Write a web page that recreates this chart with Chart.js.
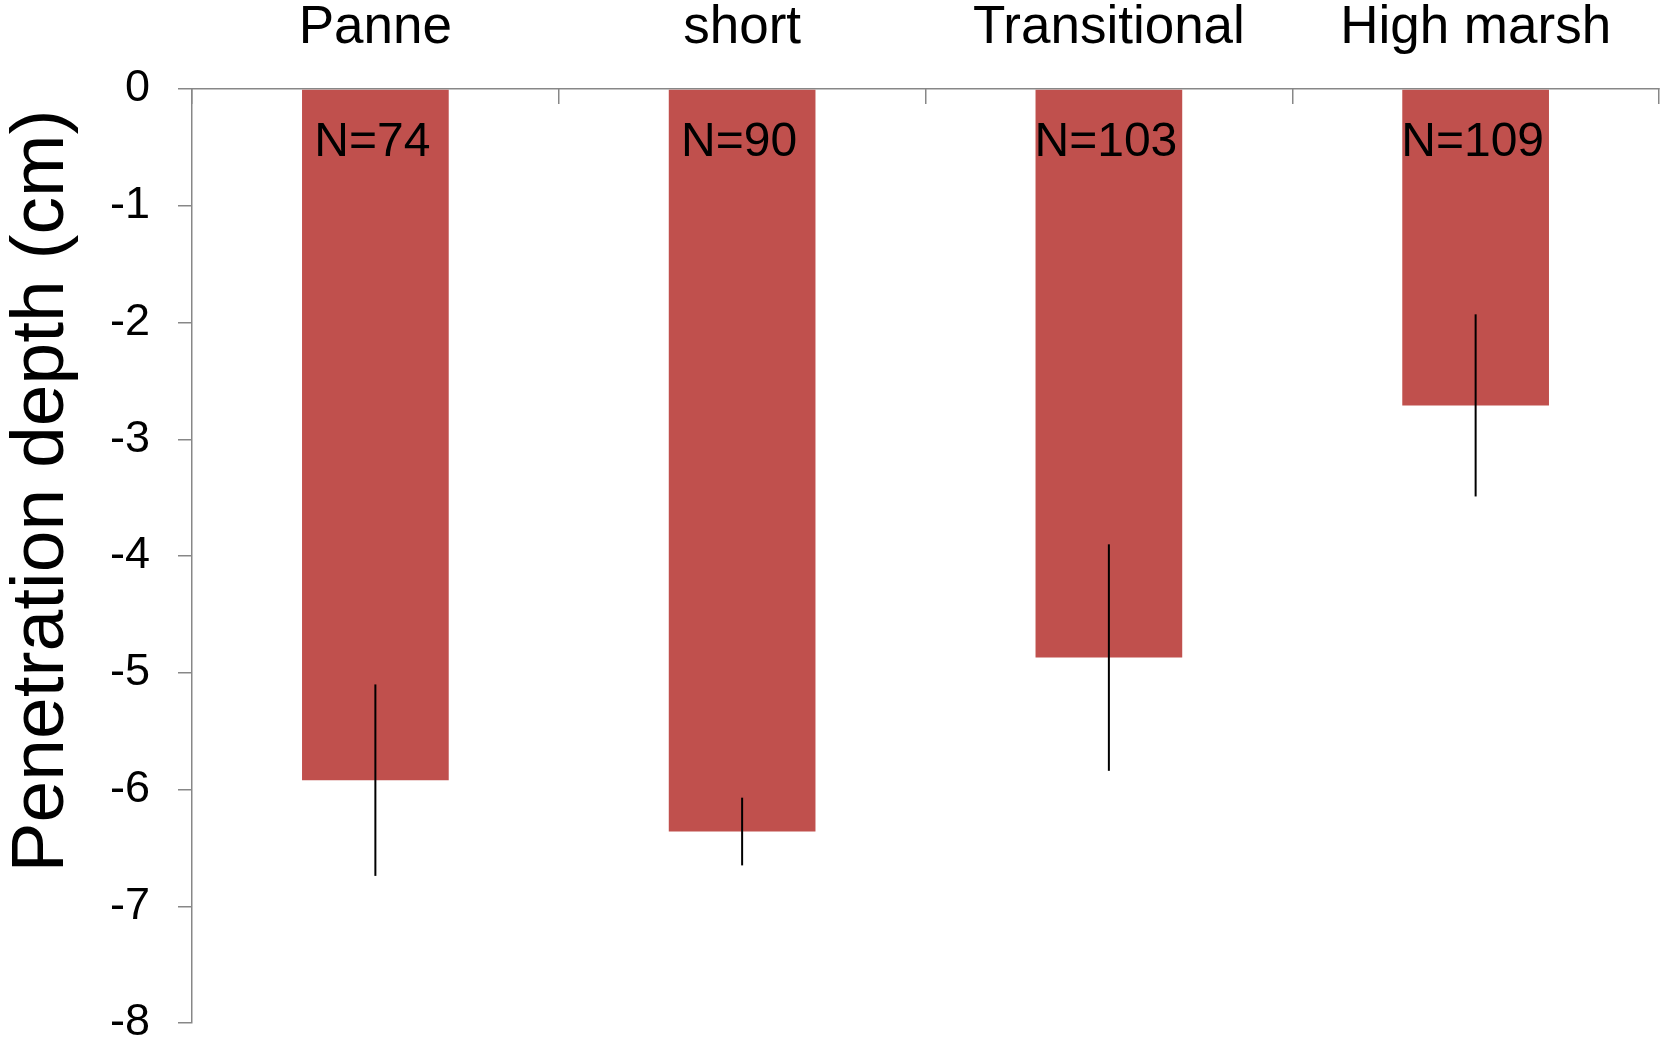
<!DOCTYPE html>
<html>
<head>
<meta charset="utf-8">
<title>Penetration depth by marsh zone</title>
<script src="https://cdn.jsdelivr.net/npm/chart.js@4.4.1/dist/chart.umd.min.js"></script>
<style>
  html, body { margin: 0; padding: 0; background: #ffffff; }
  #wrap { width: 1660px; height: 1045px; }
</style>
</head>
<body>
<div id="wrap"><canvas id="chart" width="1660" height="1045"></canvas></div>
<script>
// Mean penetration depth (cm) per zone, with error half-widths and sample sizes
const categories = ['Panne', 'short', 'Transitional', 'High marsh'];
const meanDepth = [-5.92, -6.36, -4.87, -2.71];
const depthError = [0.82, 0.29, 0.97, 0.78];
const sampleSize = [74, 90, 103, 109];
const yTickValues = [0, -1, -2, -3, -4, -5, -6, -7, -8];
const yAxisTitle = 'Penetration depth (cm)';

const FONT = '"Liberation Sans", Arial, Helvetica, sans-serif';
const AXIS_GREY = '#878787';

// Vertical error bars centred on each bar's end
const errorBarPlugin = {
  id: 'errorBars',
  afterDatasetsDraw(chart) {
    const meta = chart.getDatasetMeta(0);
    const y = chart.scales.y;
    const ctx = chart.ctx;
    ctx.save();
    ctx.strokeStyle = '#000000';
    ctx.lineWidth = 2;
    meta.data.forEach((bar, i) => {
      const top = y.getPixelForValue(meanDepth[i] + depthError[i]);
      const bottom = y.getPixelForValue(meanDepth[i] - depthError[i]);
      ctx.beginPath();
      ctx.moveTo(bar.x, top);
      ctx.lineTo(bar.x, bottom);
      ctx.stroke();
    });
    ctx.restore();
  }
};

// "N=" sample-size labels just under the zero line inside each bar
const sampleLabelPlugin = {
  id: 'sampleLabels',
  afterDatasetsDraw(chart) {
    const meta = chart.getDatasetMeta(0);
    const y = chart.scales.y;
    const ctx = chart.ctx;
    const zero = y.getPixelForValue(0);
    ctx.save();
    ctx.fillStyle = '#000000';
    ctx.font = '48px ' + FONT;
    ctx.textAlign = 'center';
    ctx.textBaseline = 'alphabetic';
    meta.data.forEach((bar, i) => {
      ctx.fillText('N=' + sampleSize[i], bar.x - 3, zero + 67);
    });
    ctx.restore();
  }
};

// Rotated y-axis title sitting left of the tick labels
const axisTitlePlugin = {
  id: 'axisTitle',
  afterDraw(chart) {
    const ctx = chart.ctx;
    ctx.save();
    ctx.translate(63, 491);
    ctx.rotate(-Math.PI / 2);
    ctx.fillStyle = '#000000';
    ctx.font = '75px ' + FONT;
    ctx.textAlign = 'center';
    ctx.textBaseline = 'alphabetic';
    ctx.fillText(yAxisTitle, 0, 0);
    ctx.restore();
  }
};

new Chart(document.getElementById('chart'), {
  type: 'bar',
  data: {
    labels: categories,
    datasets: [{
      data: meanDepth,
      backgroundColor: '#C0504D',
      borderWidth: 0,
      categoryPercentage: 1.0,
      barPercentage: 0.4
    }]
  },
  options: {
    responsive: false,
    animation: false,
    devicePixelRatio: 1,
    layout: { padding: { left: 0, right: 1, top: 0, bottom: 22 } },
    plugins: {
      legend: { display: false },
      tooltip: { enabled: false }
    },
    scales: {
      x: {
        position: 'top',
        offset: true,
        grid: {
          offset: true,
          drawOnChartArea: false,
          drawTicks: true,
          tickLength: -15,
          color: AXIS_GREY,
          lineWidth: 1.5
        },
        border: { display: true, color: AXIS_GREY, width: 1.5 },
        ticks: {
          color: '#000000',
          padding: 49,
          font: { family: FONT, size: 53, lineHeight: 1 }
        },
        afterFit(scale) {
          scale.height = 89;
          scale.paddingLeft = 0;
          scale.paddingRight = 0;
        }
      },
      y: {
        min: -8,
        max: 0,
        afterBuildTicks(scale) {
          scale.ticks = yTickValues.map(v => ({ value: v }));
        },
        grid: {
          drawOnChartArea: false,
          drawTicks: true,
          tickLength: 14,
          color: AXIS_GREY,
          lineWidth: 1.5
        },
        border: { display: true, color: AXIS_GREY, width: 1.5 },
        ticks: {
          color: '#000000',
          padding: 28,
          font: { family: FONT, size: 45, lineHeight: 1 },
          callback: (v) => String(v)
        },
        afterFit(scale) {
          scale.width = 192;
          scale.paddingTop = 0;
          scale.paddingBottom = 0;
        }
      }
    }
  },
  plugins: [errorBarPlugin, sampleLabelPlugin, axisTitlePlugin]
});
</script>
</body>
</html>
